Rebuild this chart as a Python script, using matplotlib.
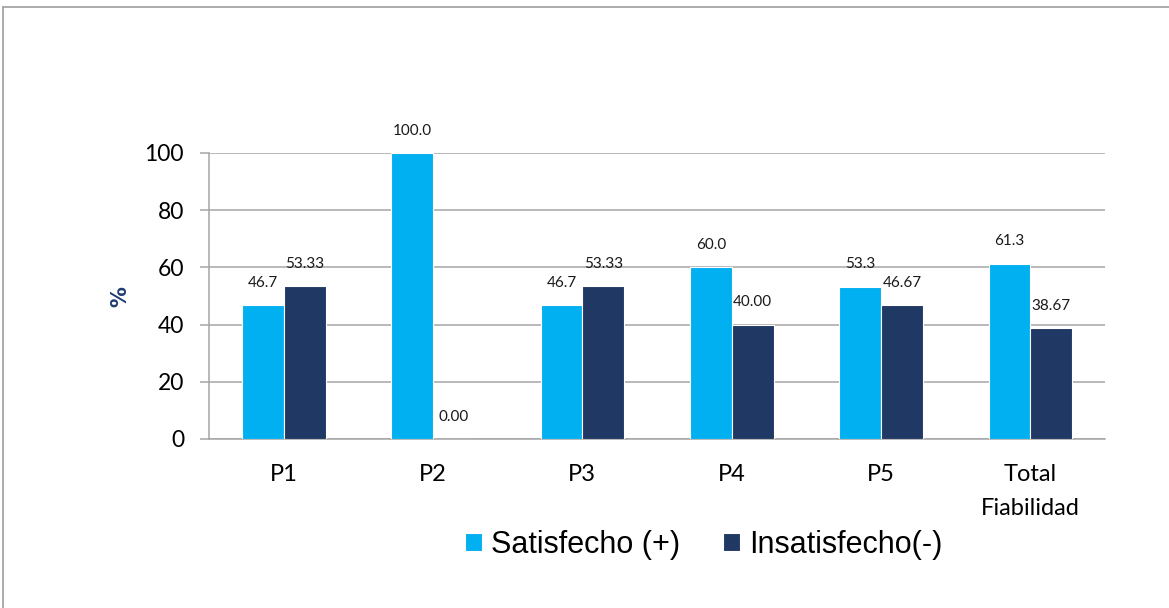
import matplotlib
matplotlib.use("Agg")
import matplotlib.pyplot as plt
from matplotlib.lines import Line2D
import numpy as np

categories = ["P1", "P2", "P3", "P4", "P5", "Total\nFiabilidad"]
satisfecho = [46.7, 100.0, 46.7, 60.0, 53.3, 61.3]
insatisfecho = [53.33, 0.00, 53.33, 40.00, 46.67, 38.67]
series_names = ["Satisfecho (+)", "Insatisfecho(-)"]
y_ticks = [0, 20, 40, 60, 80, 100]

color_sat = "#00B0F0"
color_ins = "#203864"
grid_color = "#A6A6A6"

fig = plt.figure(figsize=(11.69, 6.08), dpi=100)
ax = fig.add_axes([0.1788, 0.2780, 0.7665, 0.4704])

x = np.arange(len(categories))
w = 0.28
b1 = ax.bar(x - w / 2, satisfecho, w, color=color_sat, edgecolor="white",
            linewidth=0.8, label=series_names[0], zorder=3)
b2 = ax.bar(x + w / 2, insatisfecho, w, color=color_ins, edgecolor="white",
            linewidth=0.8, label=series_names[1], zorder=3)

label_font = dict(family="Lato", size=11, color="#1a1a1a")
for rect, v in zip(b1, satisfecho):
    ax.annotate(f"{v:.1f}", (rect.get_x() + rect.get_width() / 2, v),
                xytext=(0, 16), textcoords="offset points",
                ha="center", va="center", **label_font)
for rect, v in zip(b2, insatisfecho):
    ax.annotate(f"{v:.2f}", (rect.get_x() + rect.get_width() / 2, v),
                xytext=(0, 16), textcoords="offset points",
                ha="center", va="center", **label_font)

ax.set_xlim(-0.5, len(categories) - 0.5)
ax.set_ylim(0, 100)
ax.set_yticks(y_ticks)
ax.set_yticklabels([str(t) for t in y_ticks], family="Lato", fontsize=16.5, color="black")
ax.set_xticks(x)
ax.set_xticklabels(categories, family="Lato", fontsize=17, color="black",
                   linespacing=1.75)
ax.tick_params(axis="x", length=0, pad=18)
ax.tick_params(axis="y", length=6.5, width=1.1, color=grid_color, pad=11.5)

ax.grid(axis="y", color=grid_color, linewidth=1.1, zorder=0)
ax.set_axisbelow(True)
for s in ["top", "right"]:
    ax.spines[s].set_visible(False)
for s in ["left", "bottom"]:
    ax.spines[s].set_color(grid_color)
    ax.spines[s].set_linewidth(1.1)

# axis title
fig.text(120 / 1169, 1 - 297 / 608, "%", family="DejaVu Sans", fontsize=15,
         fontweight="bold", color="#1F3C74", rotation=90, ha="center", va="center")

leg = fig.legend(handles=[b1, b2], labels=series_names, loc="center",
                 bbox_to_anchor=(704 / 1169, 1 - 545 / 608), ncol=2, frameon=False,
                 prop=dict(family="Liberation Sans", size=22),
                 handlelength=0.55, handleheight=0.55, handletextpad=0.3,
                 columnspacing=1.4)

# outer frame lines
fig.add_artist(Line2D([3 / 1169, 1], [1 - 7 / 608, 1 - 7 / 608],
                      transform=fig.transFigure, color=grid_color, linewidth=1.3))
fig.add_artist(Line2D([3 / 1169, 3 / 1169], [0, 1 - 7 / 608],
                      transform=fig.transFigure, color=grid_color, linewidth=1.3))

fig.savefig("out.png", dpi=100)
